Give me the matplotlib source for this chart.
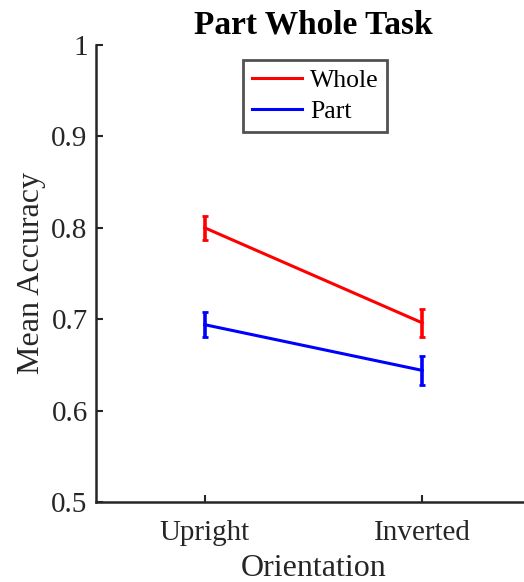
import matplotlib
matplotlib.use("Agg")
import matplotlib.pyplot as plt
from matplotlib.lines import Line2D

plt.rcParams['font.family'] = ['Liberation Serif', 'DejaVu Serif']

orientations = ["Upright", "Inverted"]
whole_mean = [0.800, 0.696]
whole_err = [0.013, 0.015]
part_mean = [0.694, 0.644]
part_err = [0.014, 0.016]
yticks = [0.5, 0.6, 0.7, 0.8, 0.9, 1.0]
ytick_labels = ["0.5", "0.6", "0.7", "0.8", "0.9", "1"]

W, H = 524, 582
fig = plt.figure(figsize=(W / 100, H / 100), dpi=100)
ax = fig.add_axes([96 / W, 1 - 502 / H, (531 - 96) / W, (502 - 45) / H])

x = [1, 2]
ax.errorbar(x, whole_mean, yerr=whole_err, color="#ff0000", lw=2.2,
            elinewidth=2.6, capsize=2.5, capthick=2)
ax.errorbar(x, part_mean, yerr=part_err, color="#0000ff", lw=2.2,
            elinewidth=2.6, capsize=2.5, capthick=2)

ax.set_xlim(0.5, 2.5)
ax.set_ylim(0.5, 1.0)
ax.set_xticks(x)
ax.set_xticklabels(orientations)
ax.set_yticks(yticks)
ax.set_yticklabels(ytick_labels)

for s in ["top", "right"]:
    ax.spines[s].set_visible(False)
for s in ["left", "bottom"]:
    ax.spines[s].set_linewidth(1.8)
    ax.spines[s].set_color("#262626")

ax.tick_params(direction="in", length=5, width=1.5, color="#262626",
               labelsize=21, labelcolor="#262626")
ax.tick_params(axis="x", pad=13)
ax.tick_params(axis="y", pad=6)

ax.set_xlabel("Orientation", fontsize=23, color="#262626", labelpad=6)
ax.set_ylabel("Mean Accuracy", fontsize=23, color="#262626", labelpad=4)
ax.set_title("Part Whole Task", fontsize=24, fontweight="bold", pad=8)

handles = [Line2D([], [], color="#ff0000", lw=2.2),
           Line2D([], [], color="#0000ff", lw=2.2)]
leg = ax.legend(handles, ["Whole", "Part"], loc="upper left",
                bbox_to_anchor=((243 - 96) / 435, 1 - (60 - 45) / 457),
                fontsize=18.5, frameon=True, fancybox=False, handlelength=1.95,
                handletextpad=0.3, borderpad=0.35, labelspacing=0.3,
                borderaxespad=0)
leg.get_frame().set_edgecolor("#262626")
leg.get_frame().set_linewidth(2.0)

fig.savefig("out.png", dpi=100)
